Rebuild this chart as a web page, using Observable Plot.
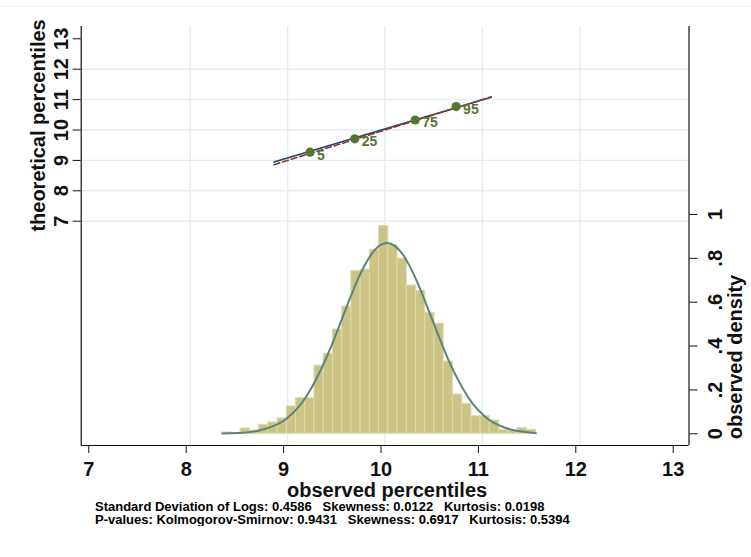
<!DOCTYPE html>
<html><head><meta charset="utf-8">
<script src="https://cdn.jsdelivr.net/npm/d3@7"></script>
<script src="https://cdn.jsdelivr.net/npm/@observablehq/plot@0.6"></script>
<style>
body{margin:0;background:#fff;font-family:"Liberation Sans",Arial,sans-serif;}
#wrap{position:relative;width:751px;height:498px;}
#wrap svg{position:absolute;left:0;top:0;}
#topline{position:absolute;left:0;top:6px;width:751px;height:0;border-top:1px solid #f1f1f1;}
#caption{margin-left:95px;margin-top:2px;font-weight:bold;font-size:13px;line-height:13px;color:#000;white-space:pre;}
</style></head><body>
<div id="wrap"><div id="topline"></div></div>
<div id="caption"></div>
<script>
// ---- data ----
const xTicks = [7, 8, 9, 10, 11, 12, 13];
const yTicks = [7, 8, 9, 10, 11, 12, 13];
const xGrid = [8, 9, 10, 11, 12];
const yGrid = [7, 8, 9, 10, 11, 12];
const densityTicks = [0, 0.2, 0.4, 0.6, 0.8, 1];
const densityTickLabels = ["0", ".2", ".4", ".6", ".8", "1"];

const binStart = 8.3285;
const binWidth = 0.09476;
const binDensity = [0.006, 0.004, 0.024, 0.015, 0.041, 0.0515, 0.070, 0.1245, 0.162, 0.162,
  0.311, 0.365, 0.4756, 0.580, 0.7415, 0.748, 0.839, 0.947, 0.859, 0.798,
  0.676, 0.652, 0.552, 0.502, 0.3297, 0.179, 0.137, 0.080, 0.080, 0.0607,
  0.018, 0.015, 0.0257, 0.018];

const curveX = [8.33, 8.5, 8.7, 8.9, 9.0, 9.1, 9.2, 9.3, 9.4, 9.5, 9.6, 9.7, 9.8, 9.9, 10.0,
  10.1, 10.2, 10.3, 10.4, 10.5, 10.6, 10.7, 10.8, 10.9, 11.0, 11.1, 11.3, 11.55];
const curveDensity = [0.001, 0.004, 0.014, 0.044, 0.073, 0.116, 0.176, 0.254, 0.349, 0.457, 0.572, 0.682, 0.775, 0.841, 0.869,
  0.857, 0.806, 0.722, 0.617, 0.503, 0.391, 0.290, 0.205, 0.138, 0.089, 0.054, 0.018, 0.003];

const pctLabels = ["5", "25", "75", "95"];
const pctObserved = [9.23, 9.69, 10.31, 10.73];
const pctTheoretical = [9.27, 9.71, 10.33, 10.77];

const qqObserved = [8.86, 11.09];
const qqTheoretical = [8.95, 11.08];
const refLine = [8.86, 11.09];

const captionLines = [
  "Standard Deviation of Logs: 0.4586   Skewness: 0.0122   Kurtosis: 0.0198",
  "P-values: Kolmogorov-Smirnov: 0.9431   Skewness: 0.6917   Kurtosis: 0.5394"
];

// ---- layout ----
const W = 751, H = 498;
const M = {marginTop: 26, marginRight: 62.5, marginBottom: 53, marginLeft: 80.7};
const xDomain = [6.881, 13.121];
const yDomain = [-0.378, 13.405];
const dDomain = [-0.0534, 1.857];
const FONT = "Liberation Sans, Arial, Helvetica, sans-serif";
const baseStyle = {fontFamily: FONT, fontWeight: "bold", fontSize: "20px", color: "#111", background: "transparent", overflow: "visible"};

const bins = binDensity.map((d, i) => ({x1: binStart + i * binWidth, x2: binStart + (i + 1) * binWidth, d}));
const curve = curveX.map((x, i) => ({x, d: curveDensity[i]}));
const pct = pctLabels.map((l, i) => ({l, x: pctObserved[i], y: pctTheoretical[i]}));
const qq = qqObserved.map((x, i) => ({x, y: qqTheoretical[i]}));
const ref = refLine.map(v => ({x: v, y: v}));

const grid = {stroke: "#e4edf0", strokeOpacity: 1, strokeWidth: 1.4};
const lineC = {stroke: "#111", strokeWidth: 1.2};

const p1 = Plot.plot({
  width: W, height: H, ...M,
  style: baseStyle,
  x: {domain: xDomain},
  y: {domain: yDomain},
  marks: [
    Plot.gridX(xGrid, grid),
    Plot.gridY(yGrid, grid),
    Plot.axisX(xTicks, {tickSize: 8, tickPadding: 8, fontSize: 20, dx: -4, label: null}),
    Plot.axisY(yTicks, {tickSize: 8, tickRotate: -90, tickPadding: 5, fontSize: 20, label: null}),
    Plot.ruleX(xDomain, lineC),
    Plot.ruleY([yDomain[0]], lineC),
    Plot.text(["observed percentiles"], {text: d => d, frameAnchor: "bottom", dy: 51, dx: 2, textAnchor: "middle", lineAnchor: "bottom", fontSize: 20}),
    Plot.text(["theoretical percentiles"], {text: d => d, y: d => 10.15, frameAnchor: "left", dx: -35.7, rotate: -90, textAnchor: "middle", lineAnchor: "bottom", fontSize: 20}),
    Plot.line(qq, {x: "x", y: "y", stroke: "#1a476f", strokeWidth: 1.6}),
    Plot.line(ref, {x: "x", y: "y", stroke: "#90353b", strokeWidth: 1.6, strokeDasharray: "6,3"}),
    Plot.dot(pct, {x: "x", y: "y", r: 4.6, fill: "#557530", stroke: "none"}),
    Plot.text(pct, {x: "x", y: "y", text: "l", dx: 7, dy: 3, textAnchor: "start", fill: "#557530", fontSize: 14})
  ]
});

const p2 = Plot.plot({
  width: W, height: H, ...M,
  style: baseStyle,
  x: {domain: xDomain, axis: null},
  y: {domain: dDomain},
  marks: [
    Plot.rect(bins, {x1: "x1", x2: "x2", y1: () => 0, y2: "d", fill: "#cbc484", stroke: "#dedaaa", strokeWidth: 1}),
    Plot.line(curve, {x: "x", y: "d", stroke: "#5c8579", strokeWidth: 2, curve: "natural"}),
    Plot.axisY(densityTicks, {anchor: "right", tickSize: 8, tickRotate: -90, tickPadding: 10.5, lineAnchor: "top", fontSize: 20, label: null,
      tickFormat: d => densityTickLabels[densityTicks.indexOf(d)]}),
    Plot.text(["observed density"], {text: d => d, y: d => 0.35, frameAnchor: "right", dx: 52.5, rotate: -90, textAnchor: "middle", lineAnchor: "bottom", fontSize: 20})
  ]
});

const wrap = document.getElementById("wrap");
wrap.appendChild(p1);
wrap.appendChild(p2);
document.getElementById("caption").textContent = captionLines.join("\n");
</script>
</body></html>
